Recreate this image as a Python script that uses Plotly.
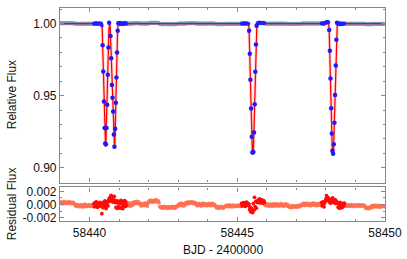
import numpy as np
import plotly.graph_objects as go

# ---------------- data ----------------
t_start = 58439.0          # BJD - 2400000 of first cadence
cadence = 1.0 / 48.0       # 30-min cadence (days)

# residuals in units of 1e-5, one list per day (48 cadences each)
r_58439 = [31, 18, 42, 22, 9, 35, 27, 48, 15, 30, 21, 38, 12, 26, 44, 19, 33, 8, 29, 40, 17, 24, 36, 11,
           -2, -20, -8, -31, 4, -18, -25, -6, -36, -12, 2, -22, -15, -40, -9, -27, 6, -19, -33, -4, -14, -29, -21, 1]
r_58440 = [-10, -24, -3, -30, -16, -8, -21,
           12, -35, 28, -14, 40, -5, -42, 18, 7, -26, 33, -18, 4,
           -138, 22, -48, 36, -12, 55, -30, -60, 15, 44, -20,
           62, 95, 48, 118, 140, 70, 105, 38, 88, 126, 52, 30,
           -45, 60, -58, 25, -32]
r_58441 = [48, -55, 20, 65, -38, 12, -62, 35, -15, 58, -28, 40, -8,
           14, -22, 6, 25, -11, -30, 18, 3, -17, 29, -6,
           38, 20, 45, 12, 31, 50, 17, 28, 42, 9,
           -4, 16, -25, 8, -13, 21, -2, -19, 11, 27, -9, 4, -28, 13]
r_58442 = [42, 61, 38, 55, 70, 44, 33, 58, 49, 66, 39, 52, 75, 46, 35, 60, 48, 29,
           -28, -45, -36, -52, -30, -61, -40, -25, -48, -38, -55, -33, -44, -64, -29, -50,
           -41, -35, -58, -46, -27, -53, -39, -47, -32, -60, -43, -22, -37, -18]
r_58443 = [-12, 8, -20, 15, -5, 22, -18, 3, 10, -26, 17, -8, 25, 1,
           30, 18, 42, 24, 12, 35, 28, 46, 20, 33, 15, 38, 26, 9, 31,
           -3, 14, -22, 6, -15, 19, -9, 2, -24, 11, -6, 23, -17, 5, -11, 16, -1, -20, 9]
r_58444 = [7, -14, 18, -3, 12, -21, 4, 20, -9, 15, -16, 2, -6,
           -35, -52, -28, -46, -60, -38, -30, -55, -42, -25, -49, -36, -58, -33, -44, -27,
           -18, -31, -9, -26, -12, -35, -20, -4, -29, -15, -38, -22, -7, -33, -17, -25, -10, -30, -19]
r_58445 = [-24, -12, -30, -8, -19, -27, -14,
           18, -22, 5, 30, -10, 24, -28, 12, 36, -5, 20, -16, 8,
           -78, -40, -112, -60, -95, -122, 15, -85,
           110, -30, 45, -55,
           52, 30, 68, 42, 85, 25, 60, 38, 72, 48, 20, 58, 35,
           -6, -18, 4]
r_58446 = [-15, 6, -22, -3, -28, 10, -12, 2, -19, -30, 8, -6, 14, -24, -9, 4, -17, 12, -2, -26,
           -11, 5, -20, 18, -7, -14, 0, -29, 9, -18, -5, 11, -23, -8, 3,
           -30, -42, -18, -35, -50, -22, -38, -15, -45, -28, -33, -20, -40]
r_58447 = [-32, -18, -40, -12, -28, -36, -8, -22, -15,
           5, -12, 20, -4, 14, -19, 9, 24, -7, 2, -16, 18, -1, 11, -23, 6, 16, -10, 27, -3,
           8, -14, 21, 0, -20, 13, -5, 19, -9, 15, 3, -17,
           30, -18, 42, 10, -35, 25, 55]
r_58448 = [88, 135, 72, 110, 95,
           45, 68, 22, 80, 35, 58, 100, 28, 62, 40, 75, 18, 52, 30,
           25, -40, 10, -58, 32, -22, 5, -48, 18, -30, -12, 20,
           -8, -25, -12, -30, 2, -18, -22, -5, -28, -14, -20, 4, -26, -10, -17, -32, -9]
r_58449 = [-12, -25, -4, -20, -8, -30, -16, 0, -22, -10, -28, -6, -18, -2, -24, -14,
           -45, -60, -38, -55, -48, -65, -42, -52, -36, -58,
           -20, -35, -12, -28, -40, -18, -30, -8, -25, -38, -15, -32, -22, -44, -10, -27, -36, -19, -30, -14, -26, -34]

# fitting windows (highlighted points) and eclipse spans
windows = [(58440.14, 58441.25), (58445.13, 58445.93), (58447.84, 58448.64)]
eclipse_spans = [(58440.43, 58440.99), (58445.39, 58445.67), (58448.10, 58448.38)]

# in-eclipse flux points
ecl_t = [58440.443, 58440.465, 58440.487, 58440.509, 58440.531, 58440.553,
         58440.575, 58440.597, 58440.619, 58440.641, 58440.663,
         58440.710, 58440.733, 58440.757, 58440.778, 58440.800, 58440.823, 58440.843,
         58440.868, 58440.889, 58440.910, 58440.931, 58440.953, 58440.975,
         58445.402, 58445.424, 58445.446, 58445.468, 58445.490, 58445.512,
         58445.545, 58445.567, 58445.589, 58445.611, 58445.633, 58445.655,
         58448.112, 58448.134, 58448.156, 58448.178, 58448.200, 58448.222, 58448.244,
         58448.266, 58448.288, 58448.310, 58448.332, 58448.354, 58448.376]
ecl_f = [0.9850, 0.9668, 0.9459, 0.9276, 0.9167, 0.9163,
         0.9276, 0.9436, 0.9645, 0.9834, 1.0005,
         0.9914, 0.9759, 0.9573, 0.9485, 0.9390, 0.9231, 0.9145,
         0.9270, 0.9450, 0.9625, 0.9800, 0.9950, 1.0003,
         0.9950, 0.9790, 0.9610, 0.9410, 0.9215, 0.9105,
         0.9108, 0.9245, 0.9440, 0.9665, 0.9855, 0.9985,
         0.9955, 0.9812, 0.9618, 0.9413, 0.9238, 0.9117, 0.9097,
         0.9163, 0.9311, 0.9504, 0.9709, 0.9887, 1.0005]

# model light curve vertices
model_t = [58438.9,
           58440.410, 58440.429, 58440.531, 58440.542, 58440.553, 58440.656, 58440.672,
           58440.685, 58440.700, 58440.835, 58440.847, 58440.857, 58440.950, 58440.970,
           58445.380, 58445.397, 58445.510, 58445.528, 58445.546, 58445.645, 58445.665,
           58448.090, 58448.108, 58448.215, 58448.233, 58448.258, 58448.367, 58448.385,
           58450.1]
model_f = [1.0,
           1.0, 0.996, 0.917, 0.9145, 0.917, 0.996, 1.0,
           1.0, 0.997, 0.916, 0.9135, 0.916, 0.996, 1.0,
           1.0, 0.997, 0.912, 0.9088, 0.912, 0.995, 1.0,
           1.0, 0.997, 0.913, 0.909, 0.912, 0.996, 1.0,
           1.0]

# axis ticks
x_ticks = [58440, 58445, 58450]
yf_ticks = [0.90, 0.95, 1.00]
yr_ticks = [-0.002, 0.0, 0.002]
yr_labels = ["-0.002", "0.000", "0.002"]

# ---------------- assemble ----------------
resid = np.array(r_58439 + r_58440 + r_58441 + r_58442 + r_58443 + r_58444 +
                 r_58445 + r_58446 + r_58447 + r_58448 + r_58449) * 1e-5
t = t_start + cadence * np.arange(len(resid))

def in_any(tt, spans):
    m = np.zeros_like(tt, dtype=bool)
    for a, b in spans:
        m |= (tt >= a) & (tt <= b)
    return m

in_win = in_any(t, windows)
in_ecl = in_any(t, eclipse_spans)

base_out = (~in_win) & (~in_ecl)
base_in = in_win & (~in_ecl)

FONT = "Liberation Sans, Arial, sans-serif"
fig = go.Figure()

# top panel
fig.add_trace(go.Scatter(x=t[base_out], y=1 + resid[base_out], mode="markers",
                         marker=dict(size=4, color="rgba(95,168,215,0.65)"),
                         xaxis="x", yaxis="y", showlegend=False))
fig.add_trace(go.Scatter(x=model_t, y=model_f, mode="lines",
                         line=dict(color="rgba(255,60,60,0.18)", width=3.5),
                         xaxis="x", yaxis="y", showlegend=False))
fig.add_trace(go.Scatter(x=model_t, y=model_f, mode="lines",
                         line=dict(color="#ff0000", width=1.3),
                         xaxis="x", yaxis="y", showlegend=False))
fig.add_trace(go.Scatter(x=t[base_in], y=1 + resid[base_in],
                         mode="markers", marker=dict(size=3.8, color="rgba(30,30,255,0.85)"),
                         xaxis="x", yaxis="y", showlegend=False))
fig.add_trace(go.Scatter(x=ecl_t, y=ecl_f,
                         mode="markers", marker=dict(size=4.5, color="#1a1aff"),
                         xaxis="x", yaxis="y", showlegend=False))

# residual panel
fig.add_trace(go.Scatter(x=t[~in_win], y=resid[~in_win], mode="markers",
                         marker=dict(size=3.6, color="rgba(255,110,80,0.85)"),
                         xaxis="x2", yaxis="y2", showlegend=False))
fig.add_trace(go.Scatter(x=t[in_win], y=resid[in_win], mode="markers",
                         marker=dict(size=3.8, color="#ff0a0a"),
                         xaxis="x2", yaxis="y2", showlegend=False))

axis_common = dict(showline=True, linecolor="#888888", linewidth=1.2, mirror="ticks",
                   ticks="inside", ticklen=4, tickcolor="#888888", tickwidth=1,
                   showgrid=False, zeroline=False, ticklabeloverflow="allow",
                   tickfont=dict(family=FONT, size=12, color="#111111"))

fig.update_layout(
    width=407, height=259,
    margin=dict(l=60, r=17, t=5, b=38),
    paper_bgcolor="white", plot_bgcolor="white",
    font=dict(family=FONT, size=12, color="#111111"),
    xaxis=dict(axis_common, range=[58439, 58450], domain=[0, 1], anchor="y",
               tickvals=x_ticks, showticklabels=False,
               minor=dict(dtick=1, ticklen=2, tickcolor="#888888", ticks="inside")),
    yaxis=dict(axis_common, range=[0.8897, 1.0108], domain=[0.1806, 1], anchor="x",
               tickvals=yf_ticks, tickformat=".2f",
               minor=dict(dtick=0.01, ticklen=2, tickcolor="#888888", ticks="inside")),
    xaxis2=dict(axis_common, range=[58439, 58450], domain=[0, 1], anchor="y2",
                matches="x", tickvals=x_ticks, tickformat="d",
                minor=dict(dtick=1, ticklen=2, tickcolor="#888888", ticks="inside")),
    yaxis2=dict(axis_common, range=[-0.0025, 0.0026], domain=[0, 0.1574], anchor="x2",
                tickvals=yr_ticks, ticktext=yr_labels,
                minor=dict(dtick=0.001, ticklen=2, tickcolor="#888888", ticks="inside")),
    annotations=[
        dict(text="Relative Flux", xref="paper", yref="paper", x=0, y=(0.1806 + 1) / 2,
             xshift=-48, textangle=-90, showarrow=False, xanchor="center", yanchor="middle",
             font=dict(family=FONT, size=12, color="#111111")),
        dict(text="Residual Flux", xref="paper", yref="paper", x=0, y=0.1574 / 2,
             xshift=-48, textangle=-90, showarrow=False, xanchor="center", yanchor="middle",
             font=dict(family=FONT, size=12, color="#111111")),
        dict(text="BJD - 2400000", xref="paper", yref="paper", x=0.5, y=0,
             yshift=-29, showarrow=False, xanchor="center", yanchor="middle",
             font=dict(family=FONT, size=12, color="#111111")),
    ],
)

fig.write_html("out.html", config={"displayModeBar": False},
               post_script="document.body.style.margin='0px';document.body.style.overflow='hidden';")
